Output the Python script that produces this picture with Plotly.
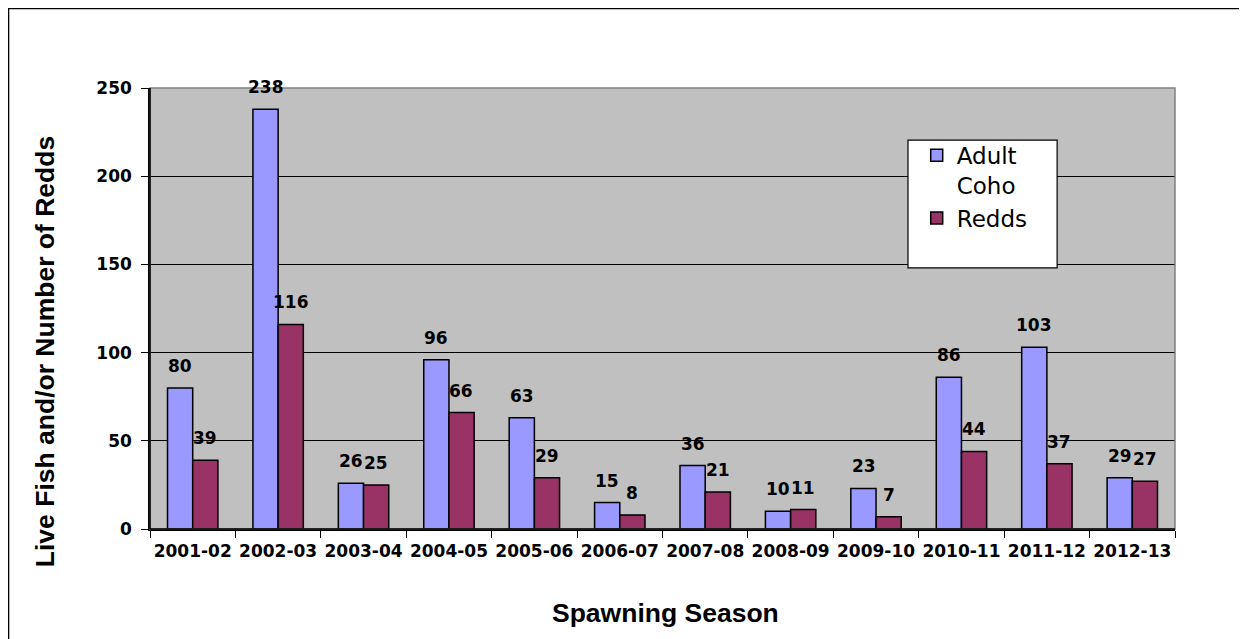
import plotly.graph_objects as go

seasons = ["2001-02", "2002-03", "2003-04", "2004-05", "2005-06", "2006-07",
           "2007-08", "2008-09", "2009-10", "2010-11", "2011-12", "2012-13"]
adult_coho = [80, 238, 26, 96, 63, 15, 36, 10, 23, 86, 103, 29]
redds = [39, 116, 25, 66, 29, 8, 21, 11, 7, 44, 37, 27]
y_ticks = [0, 50, 100, 150, 200, 250]

FONT = "DejaVu Sans, sans-serif"
FONT_AR = "Liberation Sans, Arial, sans-serif"
BAR_OFFSET = 0.146

fig = go.Figure()
fig.add_trace(go.Bar(
    x=seasons, y=adult_coho, name="Adult<br>Coho",
    marker=dict(color="#9999FF", line=dict(color="black", width=1.5)),
))
fig.add_trace(go.Bar(
    x=seasons, y=redds, name="Redds",
    marker=dict(color="#993366", line=dict(color="black", width=1.5)),
))

annotations = []
for i, (a, r) in enumerate(zip(adult_coho, redds)):
    for val, off in ((a, -BAR_OFFSET), (r, BAR_OFFSET)):
        annotations.append(dict(
            x=i + off, y=val, xref="x", yref="y", text=f"<b>{val}</b>",
            showarrow=False, yanchor="middle", yshift=22,
            font=dict(family=FONT, size=17, color="black"),
        ))

annotations.append(dict(
    x=0.503, y=-0.19, xref="paper", yref="paper", text="<b>Spawning Season</b>",
    showarrow=False, xanchor="center", yanchor="middle",
    font=dict(family=FONT_AR, size=26.5, color="black"),
))
annotations.append(dict(
    x=-0.1024, y=0.401, xref="paper", yref="paper",
    text="<b>Live Fish and/or Number of Redds</b>", textangle=-90,
    showarrow=False, xanchor="center", yanchor="middle",
    font=dict(family=FONT_AR, size=26.5, color="black"),
))

shapes = [
    # outer frame
    dict(type="rect", xref="paper", yref="paper", x0=-0.138, x1=1.2, y0=-0.5, y1=1.180,
         line=dict(color="black", width=1.5), fillcolor="rgba(0,0,0,0)", layer="below"),
    # legend box
    dict(type="rect", xref="paper", yref="paper", x0=0.7395, x1=0.885, y0=0.592, y1=0.882,
         line=dict(color="black", width=1.2), fillcolor="white", layer="above"),
    # plot area border
    dict(type="rect", xref="paper", yref="paper", x0=0, x1=1, y0=0, y1=1,
         line=dict(color="#808080", width=1.5), fillcolor="rgba(0,0,0,0)", layer="above"),
    dict(type="line", xref="paper", yref="paper", x0=0, x1=0, y0=0, y1=1,
         line=dict(color="black", width=1.5), layer="above"),
    dict(type="line", xref="paper", yref="paper", x0=0, x1=1, y0=0, y1=0,
         line=dict(color="black", width=1.5), layer="above"),
]

fig.update_layout(
    width=1239, height=631,
    margin=dict(l=142, r=72, t=80, b=110),
    paper_bgcolor="white", plot_bgcolor="#C0C0C0",
    barmode="group", bargap=0.41, bargroupgap=0,
    showlegend=True,
    legend=dict(x=0.748, y=0.896, xanchor="left", yanchor="top", valign="top",
                bgcolor="rgba(0,0,0,0)", borderwidth=0,
                font=dict(family=FONT, size=23, color="black"),
                itemwidth=30, tracegroupgap=0),
    annotations=annotations, shapes=shapes,
    font=dict(family=FONT, color="black"),
)
fig.update_xaxes(
    type="category", tickson="boundaries", ticks="outside", ticklen=7, tickcolor="black",
    showline=True, linecolor="black", linewidth=1.5, mirror=False, tickangle=0,
    tickfont=dict(family=FONT, size=17, color="black", weight="bold"),
    showgrid=False, range=[-0.5, 11.5], ticklabelstandoff=6,
)
fig.update_yaxes(
    range=[0, 250], tickvals=y_ticks, ticks="outside", ticklen=7, tickcolor="black",
    showline=True, linecolor="black", linewidth=1.5,
    showgrid=True, gridcolor="black", gridwidth=1, zeroline=False,
    tickfont=dict(family=FONT, size=17, color="black", weight="bold"),
    ticklabelstandoff=6,
)

fig.write_html("out.html")
